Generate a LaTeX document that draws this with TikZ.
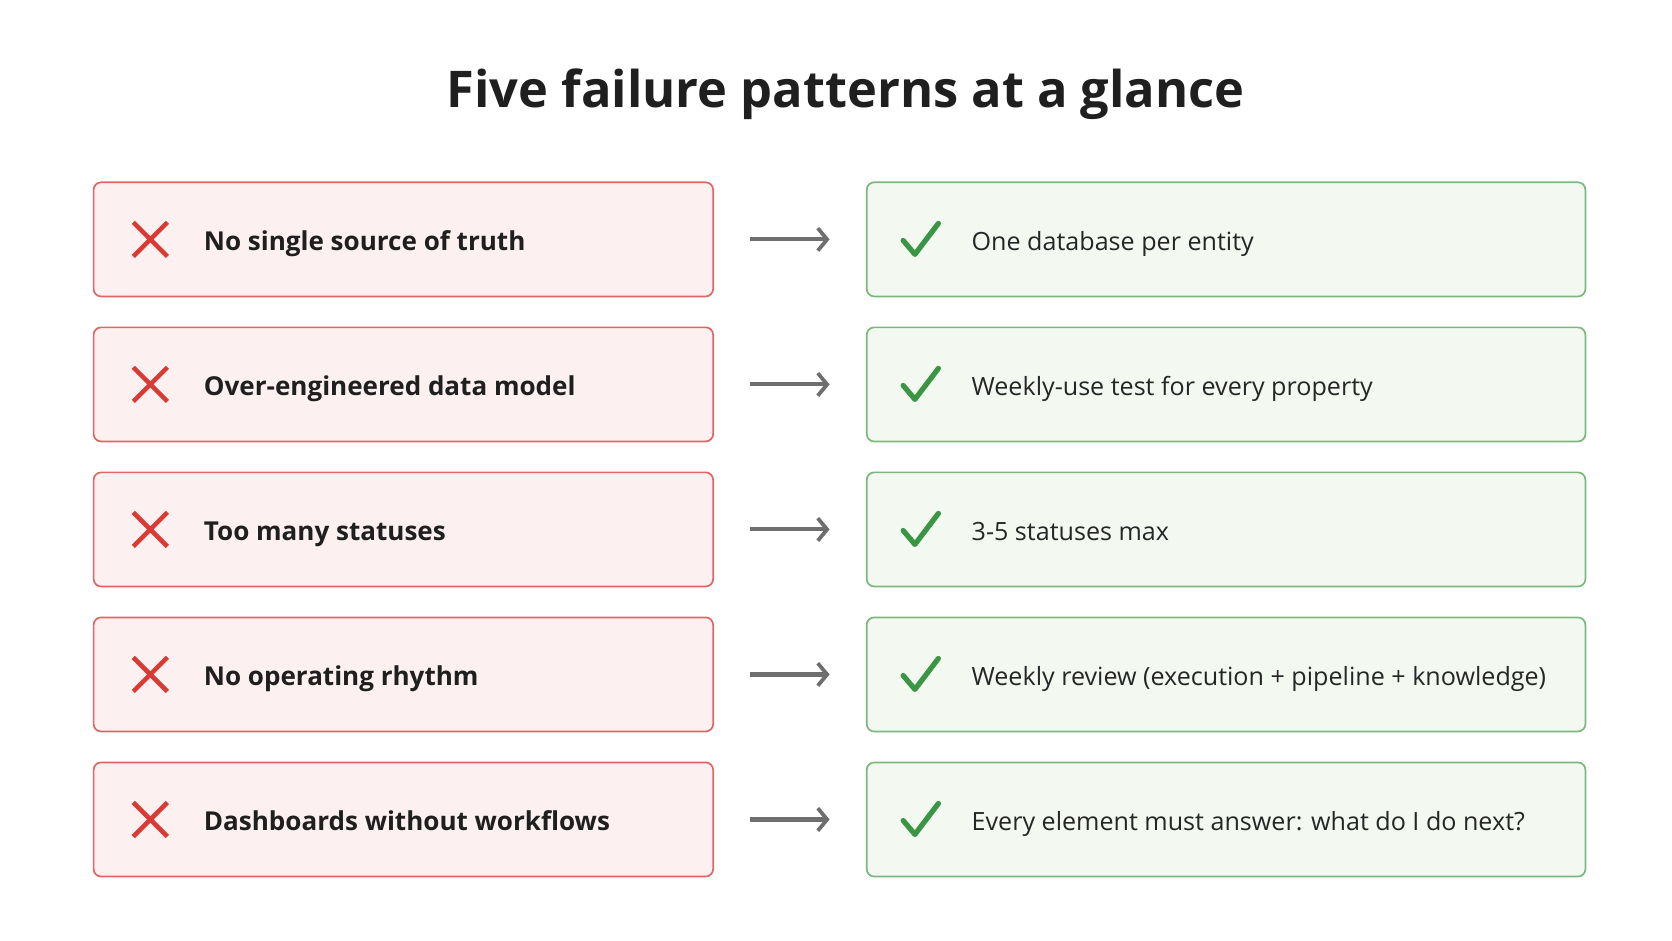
\documentclass[tikz,border=0pt]{standalone}
\usepackage{fontspec}
\setmainfont{Open Sans}
\usetikzlibrary{arrows.meta}
\definecolor{redline}{HTML}{E06666}
\definecolor{redfill}{HTML}{FDF0F0}
\definecolor{greenline}{HTML}{7CB87E}
\definecolor{greenfill}{HTML}{F3F9F1}
\definecolor{xred}{HTML}{D93B34}
\definecolor{ckgreen}{HTML}{3A9545}
\definecolor{arrowgray}{HTML}{6E6E6E}
\tikzset{
  bad/.style={draw=redline,fill=redfill,line width=0.9pt,rounded corners=4pt,minimum width=581*0.02cm,minimum height=107*0.02cm,anchor=west},
  good/.style={draw=greenline,fill=greenfill,line width=0.9pt,rounded corners=4pt,minimum width=674*0.02cm,minimum height=107*0.02cm,anchor=west},
  badtxt/.style={anchor=base west,font=\fontsize{13.9}{16}\selectfont\bfseries,text=black!88},
  goodtxt/.style={anchor=base west,font=\fontsize{13.4}{16}\selectfont,text=black!85},
  conn/.style={draw=arrowgray,line width=2.2pt,-{Straight Barb[length=5pt,width=12pt,line width=2pt]}},
  xmark/.style={draw=xred,line width=2.4pt},
  ckmark/.style={draw=ckgreen,line width=2.8pt,line cap=round,line join=round}
}
\begin{document}
\begin{tikzpicture}[x=0.02cm,y=-0.02cm]
\useasboundingbox[fill=white] (0,0) rectangle (1568,882);
\node[font=\fontsize{27}{32}\selectfont\bfseries,text=black!88] (title) at (793,88) {Five failure patterns at a glance};
\foreach \i/\y/\a/\b in {1/224.5/No single source of truth/One database per entity,
  2/360.5/Over-engineered data model/Weekly-use test for every property,
  3/496.5/Too many statuses/3-5 statuses max,
  4/632.5/No operating rhythm/Weekly review (execution + pipeline + knowledge),
  5/768.5/Dashboards without workflows/Every element must answer: what do I do next?}{
  \node[bad] (l\i) at (87,\y) {};
  \node[good] (r\i) at (812,\y) {};
  \draw[xmark] (125,\y-16) -- (157,\y+16) (125,\y+16) -- (157,\y-16);
  \draw[ckmark] (847,\y+1) -- (858,\y+14) -- (880,\y-15);
  \node[badtxt] (lt\i) at (185,\y+10) {\a};
  \node[goodtxt] (rt\i) at (905,\y+10) {\b};
  \coordinate (as\i) at (703,\y);
  \coordinate (ae\i) at (778,\y);
  \draw[conn] (as\i) -- (ae\i);
}
\end{tikzpicture}
\end{document}
